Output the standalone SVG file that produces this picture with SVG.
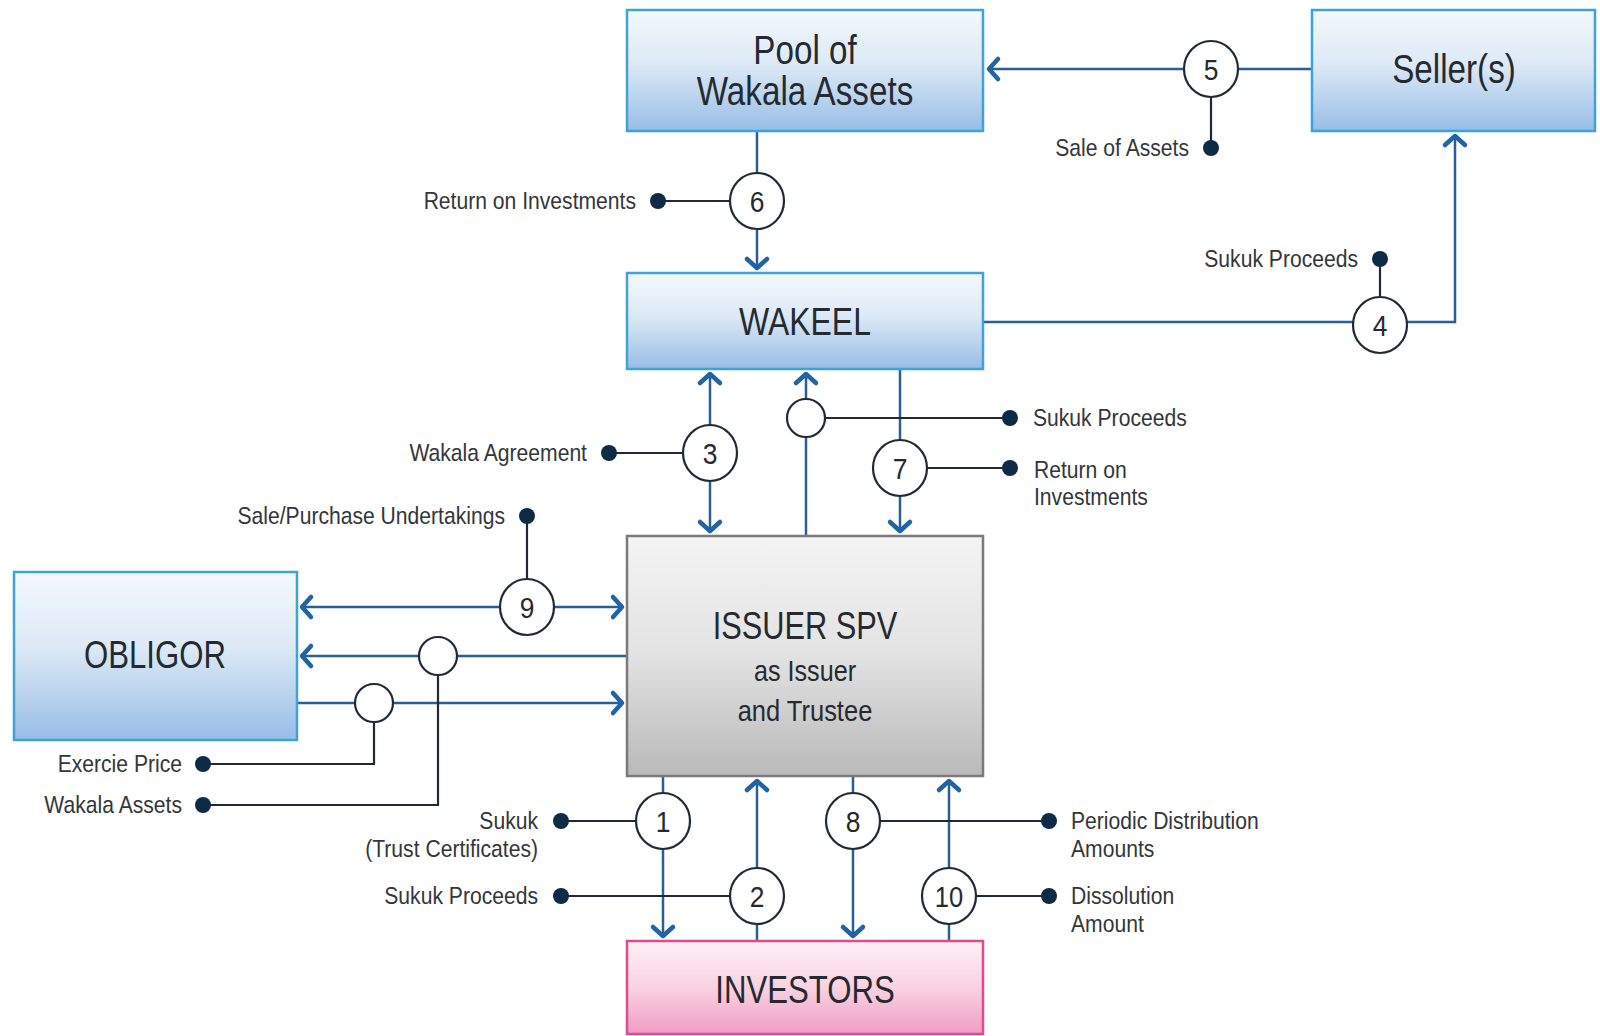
<svg xmlns="http://www.w3.org/2000/svg" width="1600" height="1036" viewBox="0 0 1600 1036">
<defs>
<linearGradient id="gBlue" x1="0" y1="0" x2="0" y2="1">
<stop offset="0" stop-color="#f4f8fd"/><stop offset="0.45" stop-color="#dce9f6"/><stop offset="1" stop-color="#97bde6"/>
</linearGradient>
<linearGradient id="gGray" x1="0" y1="0" x2="0" y2="1">
<stop offset="0" stop-color="#f4f4f4"/><stop offset="0.5" stop-color="#e2e2e2"/><stop offset="1" stop-color="#b9b9b9"/>
</linearGradient>
<linearGradient id="gPink" x1="0" y1="0" x2="0" y2="1">
<stop offset="0" stop-color="#fdf0f5"/><stop offset="0.5" stop-color="#f9d2e2"/><stop offset="1" stop-color="#f19cc2"/>
</linearGradient>
<marker id="arr" viewBox="0 0 14 24" refX="11" refY="12" markerWidth="14" markerHeight="24" markerUnits="userSpaceOnUse" orient="auto-start-reverse" overflow="visible">
<path d="M2,2 L11,12 L2,22" fill="none" stroke="#1f64a6" stroke-width="4.5" stroke-linejoin="round" stroke-linecap="round"/>
</marker>
<style>
.box{stroke-width:2.5}
.blue{fill:url(#gBlue);stroke:#3ea3da}
.gray{fill:url(#gGray);stroke:#7a7a7a}
.pink{fill:url(#gPink);stroke:#e04a8e}
.title{font-family:"Liberation Sans",Arial,sans-serif;fill:#262a30;text-anchor:middle}
.t40{font-size:40px}
.t38{font-size:38px}
.t30{font-size:30px}
.con{fill:none;stroke:#2a5e98;stroke-width:2.5}
.tie{fill:none;stroke:#1e2a36;stroke-width:2.2}
.dot{fill:#0f2a44}
.num{fill:#fff;stroke:#1e2a36;stroke-width:2.2}
.numt{font-family:"Liberation Sans",Arial,sans-serif;font-size:30px;fill:#262a30;text-anchor:middle}
.lbl{font-family:"Liberation Sans",Arial,sans-serif;font-size:24px;fill:#33363a}
.end{text-anchor:end}
</style>
</defs>
<rect width="1600" height="1036" fill="#ffffff"/>

<g id="connectors">
<line class="con" x1="1183" y1="69" x2="989" y2="69" marker-end="url(#arr)"/>
<line class="con" x1="1239" y1="69" x2="1312" y2="69"/>
<line class="con" x1="757" y1="131" x2="757" y2="173"/>
<line class="con" x1="757" y1="229" x2="757" y2="268" marker-end="url(#arr)"/>
<polyline class="con" points="983,322 1455,322 1455,136" marker-end="url(#arr)"/>
<line class="con" x1="710" y1="374" x2="710" y2="531" marker-start="url(#arr)" marker-end="url(#arr)"/>
<line class="con" x1="806" y1="536" x2="806" y2="374" marker-end="url(#arr)"/>
<line class="con" x1="900" y1="369" x2="900" y2="531" marker-end="url(#arr)"/>
<line class="con" x1="302" y1="607" x2="622" y2="607" marker-start="url(#arr)" marker-end="url(#arr)"/>
<line class="con" x1="627" y1="656" x2="302" y2="656" marker-end="url(#arr)"/>
<line class="con" x1="297" y1="703" x2="622" y2="703" marker-end="url(#arr)"/>
<line class="con" x1="663" y1="776" x2="663" y2="936" marker-end="url(#arr)"/>
<line class="con" x1="757" y1="941" x2="757" y2="781" marker-end="url(#arr)"/>
<line class="con" x1="853" y1="776" x2="853" y2="936" marker-end="url(#arr)"/>
<line class="con" x1="949" y1="941" x2="949" y2="781" marker-end="url(#arr)"/>

<line class="tie" x1="1211" y1="97" x2="1211" y2="148"/>
<line class="tie" x1="729" y1="201" x2="658" y2="201"/>
<line class="tie" x1="1380" y1="297" x2="1380" y2="259"/>
<line class="tie" x1="683" y1="453" x2="609" y2="453"/>
<line class="tie" x1="825" y1="418" x2="1010" y2="418"/>
<line class="tie" x1="928" y1="468" x2="1010" y2="468"/>
<line class="tie" x1="527" y1="579" x2="527" y2="516"/>
<polyline class="tie" points="438,675 438,805 203,805"/>
<polyline class="tie" points="374,722 374,764 203,764"/>
<line class="tie" x1="635" y1="821" x2="561" y2="821"/>
<line class="tie" x1="729" y1="896" x2="561" y2="896"/>
<line class="tie" x1="881" y1="821" x2="1049" y2="821"/>
<line class="tie" x1="977" y1="896" x2="1049" y2="896"/>

<circle class="dot" cx="1211" cy="148" r="8"/>
<circle class="dot" cx="658" cy="201" r="8"/>
<circle class="dot" cx="1380" cy="259" r="8"/>
<circle class="dot" cx="609" cy="453" r="8"/>
<circle class="dot" cx="1010" cy="418" r="8"/>
<circle class="dot" cx="1010" cy="468" r="8"/>
<circle class="dot" cx="527" cy="516" r="8"/>
<circle class="dot" cx="203" cy="805" r="8"/>
<circle class="dot" cx="203" cy="764" r="8"/>
<circle class="dot" cx="561" cy="821" r="8"/>
<circle class="dot" cx="561" cy="896" r="8"/>
<circle class="dot" cx="1049" cy="821" r="8"/>
<circle class="dot" cx="1049" cy="896" r="8"/>

<ellipse class="num" cx="1211" cy="69" rx="27" ry="28"/><text class="numt" transform="translate(1211,80) scale(.88,1)">5</text>
<ellipse class="num" cx="757" cy="201" rx="27" ry="28"/><text class="numt" transform="translate(757,212) scale(.88,1)">6</text>
<ellipse class="num" cx="1380" cy="325" rx="27" ry="28"/><text class="numt" transform="translate(1380,336) scale(.88,1)">4</text>
<ellipse class="num" cx="710" cy="453" rx="27" ry="28"/><text class="numt" transform="translate(710,464) scale(.88,1)">3</text>
<circle class="num" cx="806" cy="418" r="19"/>
<ellipse class="num" cx="900" cy="468" rx="27" ry="28"/><text class="numt" transform="translate(900,479) scale(.88,1)">7</text>
<ellipse class="num" cx="527" cy="607" rx="27" ry="28"/><text class="numt" transform="translate(527,618) scale(.88,1)">9</text>
<circle class="num" cx="438" cy="656" r="19"/>
<circle class="num" cx="374" cy="703" r="19"/>
<ellipse class="num" cx="663" cy="821" rx="27" ry="28"/><text class="numt" transform="translate(663,832) scale(.88,1)">1</text>
<ellipse class="num" cx="757" cy="896" rx="27" ry="28"/><text class="numt" transform="translate(757,907) scale(.88,1)">2</text>
<ellipse class="num" cx="853" cy="821" rx="27" ry="28"/><text class="numt" transform="translate(853,832) scale(.88,1)">8</text>
<ellipse class="num" cx="949" cy="896" rx="27" ry="28"/><text class="numt" transform="translate(949,907) scale(.85,1)">10</text>

<text class="lbl end" transform="translate(1189,156) scale(.88,1)">Sale of Assets</text>
<text class="lbl end" transform="translate(636,209) scale(.88,1)">Return on Investments</text>
<text class="lbl end" transform="translate(1358,267) scale(.88,1)">Sukuk Proceeds</text>
<text class="lbl end" transform="translate(587,461) scale(.88,1)">Wakala Agreement</text>
<text class="lbl" transform="translate(1033,426) scale(.88,1)">Sukuk Proceeds</text>
<text class="lbl" transform="translate(1034,478) scale(.88,1)">Return on</text>
<text class="lbl" transform="translate(1034,505) scale(.88,1)">Investments</text>
<text class="lbl end" transform="translate(505,524) scale(.88,1)">Sale/Purchase Undertakings</text>
<text class="lbl end" transform="translate(182,772) scale(.88,1)">Exercie Price</text>
<text class="lbl end" transform="translate(182,813) scale(.88,1)">Wakala Assets</text>
<text class="lbl end" transform="translate(538,829) scale(.88,1)">Sukuk</text>
<text class="lbl end" transform="translate(538,857) scale(.88,1)">(Trust Certificates)</text>
<text class="lbl end" transform="translate(538,904) scale(.88,1)">Sukuk Proceeds</text>
<text class="lbl" transform="translate(1071,829) scale(.88,1)">Periodic Distribution</text>
<text class="lbl" transform="translate(1071,857) scale(.88,1)">Amounts</text>
<text class="lbl" transform="translate(1071,904) scale(.88,1)">Dissolution</text>
<text class="lbl" transform="translate(1071,932) scale(.88,1)">Amount</text>
</g>

<g id="pool">
<rect class="box blue" x="627" y="10" width="356" height="121"/>
<text class="title t40" transform="translate(805,64) scale(.83,1)">Pool of</text>
<text class="title t40" transform="translate(805,105) scale(.83,1)">Wakala Assets</text>
</g>
<g id="seller">
<rect class="box blue" x="1312" y="10" width="283" height="121"/>
<text class="title t40" transform="translate(1454,83) scale(.83,1)">Seller(s)</text>
</g>
<g id="wakeel">
<rect class="box blue" x="627" y="273" width="356" height="96"/>
<text class="title t38" transform="translate(805,335) scale(.84,1)">WAKEEL</text>
</g>
<g id="issuer">
<rect class="box gray" x="627" y="536" width="356" height="240"/>
<text class="title t38" transform="translate(805,639) scale(.81,1)">ISSUER SPV</text>
<text class="title t30" transform="translate(805,681) scale(.84,1)">as Issuer</text>
<text class="title t30" transform="translate(805,721) scale(.85,1)">and Trustee</text>
</g>
<g id="obligor">
<rect class="box blue" x="14" y="572" width="283" height="168"/>
<text class="title t38" transform="translate(155,668) scale(.82,1)">OBLIGOR</text>
</g>
<g id="investors">
<rect class="box pink" x="627" y="941" width="356" height="93"/>
<text class="title t38" transform="translate(805,1003) scale(.82,1)">INVESTORS</text>
</g>
</svg>
